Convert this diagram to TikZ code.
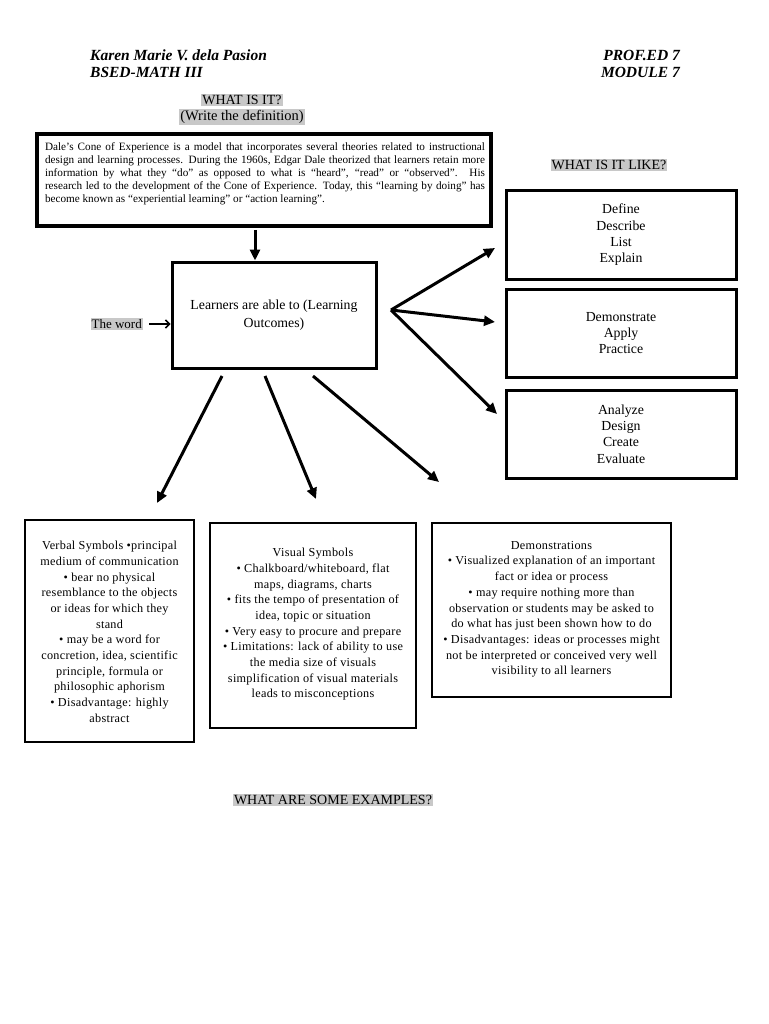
\documentclass[tikz,border=0pt]{standalone}
\usepackage{fontspec}
\setmainfont{Liberation Serif}
\usetikzlibrary{arrows.meta}
\definecolor{hl}{RGB}{200,200,200}
\tikzset{
  hilite/.style={fill=hl,inner xsep=1pt,inner ysep=1.5pt,font=\fontsize{14}{16}\selectfont},
  bx/.style={draw,line width=3pt,inner sep=0pt},
  arr/.style={line width=3pt,-{Triangle[length=11pt,width=10pt]}},
  head/.style={font=\fontsize{15.5}{17}\selectfont\bfseries\itshape,inner sep=0pt}
}
\begin{document}
\begin{tikzpicture}[x=1pt,y=-1pt]
\useasboundingbox (0,0) rectangle (768,1024);
\fill[white] (0,0) rectangle (768,1024);
% header
\node[head,anchor=west] (name) at (90,55) {Karen Marie V. dela Pasion};
\node[head,anchor=west] (course) at (90,72) {BSED-MATH III};
\node[head,anchor=east] (subj) at (680,55) {PROF.ED 7};
\node[head,anchor=east] (mod) at (680,72) {MODULE 7};
% what is it
\node[hilite] (wii) at (242,100) {WHAT IS IT?};
\node[hilite,font=\fontsize{14.5}{16}\selectfont] (wdef) at (242,117) {(Write the definition)};
% definition box
\node[bx,line width=3.5pt,minimum width=454pt,minimum height=92pt] (def) at (264,180) {};
\node[text width=440pt,align=justify,inner sep=0pt,font=\fontsize{11.2}{13.1}\selectfont] (deftext) at (265,174) {Dale’s Cone of Experience is a model that incorporates several theories related to instructional\linebreak design and learning processes. During the 1960s, Edgar Dale theorized that learners retain more\linebreak information by what they “do” as opposed to what is “heard”, “read” or “observed”. His\linebreak research led to the development of the Cone of Experience. Today, this “learning by doing” has\linebreak become known as “experiential learning” or “action learning”.};
% main box
\node[bx,minimum width=204pt,minimum height=106pt,align=center,font=\fontsize{13.8}{18}\selectfont] (main) at (274,315) {Learners are able to (Learning\\Outcomes)};
\coordinate (dtop) at (255,230);
\draw[arr] (dtop) -- (main.north -| dtop);
% the word
\node[hilite,font=\fontsize{13}{15}\selectfont,anchor=east] (word) at (143,324) {The word};
\draw[line width=1.5pt,-{Straight Barb[length=4pt,width=8pt]}] (word.east) ++(6,0) coordinate (wa) -- (main.west |- wa);
% what is it like
\node[hilite] (like) at (609,165) {WHAT IS IT LIKE?};
\tikzset{rbox/.style={bx,minimum width=230pt,minimum height=88pt,align=center,font=\fontsize{13.8}{16.4}\selectfont}}
\node[rbox] (r1) at (621,235) {Define\\Describe\\List\\Explain};
\node[rbox] (r2) at (621,333) {Demonstrate\\Apply\\Practice};
\node[rbox] (r3) at (621,434) {Analyze\\Design\\Create\\Evaluate};
\coordinate (hub) at (391,310);
\coordinate (e1) at (495,248);
\coordinate (e2) at (495,322);
\coordinate (e3) at (497,414);
\draw[arr] (hub) -- (e1);
\draw[arr] (hub) -- (e2);
\draw[arr] (hub) -- (e3);
% bottom arrows
\coordinate (s1) at (222,376); \coordinate (t1) at (157,503);
\coordinate (s2) at (265,376); \coordinate (t2) at (316,499);
\coordinate (s3) at (313,376); \coordinate (t3) at (439,482);
\draw[arr] (s1) -- (t1);
\draw[arr] (s2) -- (t2);
\draw[arr] (s3) -- (t3);
% bottom boxes
\newfontfamily\spaced[LetterSpace=2.5]{Liberation Serif}
\tikzset{bbox/.style={bx,line width=2.6pt},btxt/.style={align=center,inner sep=0pt,font=\spaced\fontsize{12.2}{15.7}\selectfont}}
\node[bbox,minimum width=169pt,minimum height=222pt] (b1) at (109.5,631) {};
\node[btxt,anchor=north] (b1t) at (109.5,541) {Verbal Symbols •principal\\medium of communication\\• bear no physical\\resemblance to the objects\\or ideas for which they\\stand\\• may be a word for\\concretion, idea, scientific\\principle, formula or\\philosophic aphorism\\• Disadvantage: highly\\abstract};
\node[bbox,minimum width=206pt,minimum height=205pt] (b2) at (313,625.5) {};
\node[btxt,anchor=north] (b2t) at (313,548) {Visual Symbols\\• Chalkboard/whiteboard, flat\\maps, diagrams, charts\\• fits the tempo of presentation of\\idea, topic or situation\\• Very easy to procure and prepare\\• Limitations: lack of ability to use\\the media size of visuals\\simplification of visual materials\\leads to misconceptions};
\node[bbox,minimum width=239pt,minimum height=174pt] (b3) at (551.5,610) {};
\node[btxt,anchor=north] (b3t) at (551.5,541) {Demonstrations\\• Visualized explanation of an important\\fact or idea or process\\• may require nothing more than\\observation or students may be asked to\\do what has just been shown how to do\\• Disadvantages: ideas or processes might\\not be interpreted or conceived very well\\visibility to all learners};
% examples
\node[hilite] (ex) at (333,800) {WHAT ARE SOME EXAMPLES?};
\end{tikzpicture}
\end{document}
